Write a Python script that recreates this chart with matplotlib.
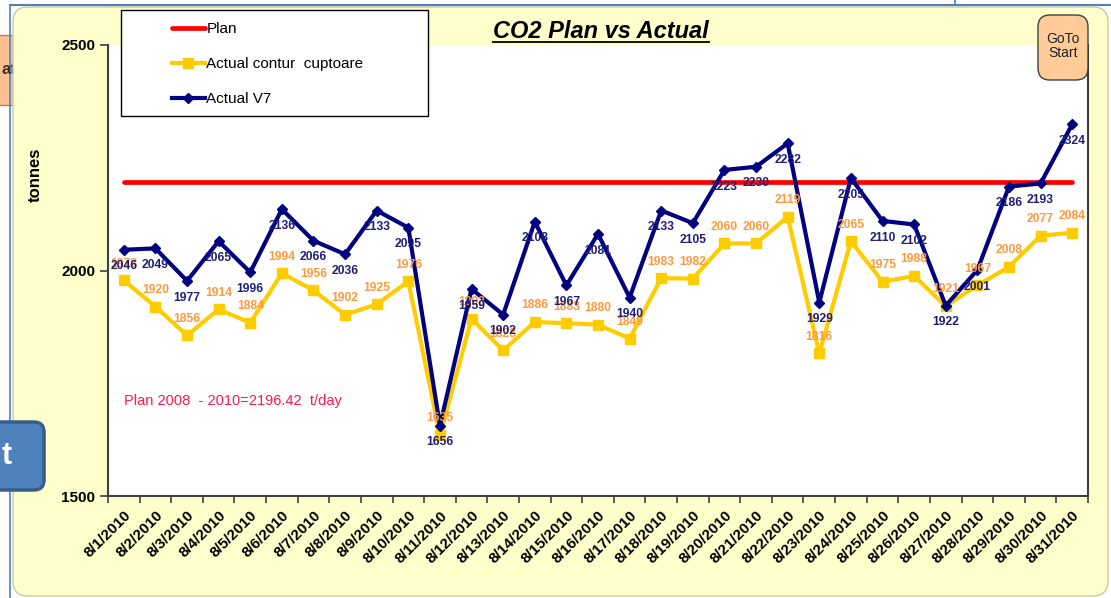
import matplotlib
matplotlib.use('Agg')
import numpy as np
import matplotlib.pyplot as plt
from matplotlib.patches import FancyBboxPatch, Rectangle
from matplotlib.lines import Line2D

plt.rcParams['font.family'] = ['Liberation Sans', 'DejaVu Sans']

dates = ['8/1/2010', '8/2/2010', '8/3/2010', '8/4/2010', '8/5/2010', '8/6/2010',
         '8/7/2010', '8/8/2010', '8/9/2010', '8/10/2010', '8/11/2010', '8/12/2010',
         '8/13/2010', '8/14/2010', '8/15/2010', '8/16/2010', '8/17/2010', '8/18/2010',
         '8/19/2010', '8/20/2010', '8/21/2010', '8/22/2010', '8/23/2010', '8/24/2010',
         '8/25/2010', '8/26/2010', '8/27/2010', '8/28/2010', '8/29/2010', '8/30/2010',
         '8/31/2010']
plan_value = 2196.42
plan = [plan_value] * len(dates)
actual_contur = [1978, 1920, 1856, 1914, 1884, 1994, 1956, 1902, 1925, 1976,
                 1635, 1893, 1823, 1886, 1883, 1880, 1849, 1983, 1982, 2060,
                 2060, 2119, 1816, 2065, 1975, 1988, 1921, 1967, 2008, 2077, 2084]
actual_v7 = [2046, 2049, 1977, 2065, 1996, 2136, 2066, 2036, 2133, 2095,
             1656, 1959, 1902, 2108, 1967, 2081, 1940, 2133, 2105, 2223,
             2230, 2282, 1929, 2205, 2110, 2102, 1922, 2001, 2186, 2193, 2324]

W, H = 1111, 598
fig = plt.figure(figsize=(W / 100, H / 100), dpi=100)
fig.patch.set_facecolor('white')


def px_box(x0, y0, x1, y1):
    # pixel box (top-left origin) -> inches, bottom-left origin
    return x0 / 100, (H - y1) / 100, (x1 - x0) / 100, (y1 - y0) / 100


# screenshot leftovers around the chart object
bx, by, bw, bh = px_box(-10, 35, 40, 105)
fig.patches.append(Rectangle((bx, by), bw, bh, transform=fig.dpi_scale_trans,
                             facecolor='#FAC090', edgecolor='#C08050', lw=1, zorder=-4))
fig.text(1 / W, 1 - 70 / H, 'at', fontsize=12, fontweight='bold', color='#333333',
         va='center', zorder=-3)
fig.add_artist(Line2D([10 / W, 1], [1 - 5 / H, 1 - 5 / H], color='#4F81BD', lw=1.5, zorder=-3))
fig.add_artist(Line2D([10 / W, 10 / W], [0, 1 - 5 / H], color='#4F81BD', lw=1.2, zorder=-3))
fig.add_artist(Line2D([955 / W, 955 / W], [1 - 5 / H, 1], color='#4F81BD', lw=1.2, zorder=-3))

# yellow chart area
bx, by, bw, bh = px_box(13, 7, 1108, 596)
fig.patches.append(FancyBboxPatch((bx, by), bw, bh, boxstyle='round,pad=0,rounding_size=0.15',
                                  transform=fig.dpi_scale_trans, facecolor='#FFFFCC',
                                  edgecolor='#C8C8B0', lw=1, zorder=-2))

ax = fig.add_axes([108 / W, 1 - 496 / H, (1088 - 108) / W, (496 - 45) / H])
ax.set_facecolor('white')
x = np.arange(len(dates))

ax.plot(x, plan, color='#FF0000', lw=3.4, solid_capstyle='round', label='Plan', zorder=2)
ax.plot(x, actual_contur, color='#FFCC00', lw=3, marker='s', ms=7,
        label='Actual contur  cuptoare', zorder=3)
ax.plot(x, actual_v7, color='#000080', lw=3, marker='D', ms=5.5,
        label='Actual V7', zorder=4)

for i, v in enumerate(actual_contur):
    ax.annotate(str(v), (i, v), xytext=(0, 12), textcoords='offset points',
                ha='center', va='center', fontsize=8.7, fontweight='bold',
                color='#FF9A3C', zorder=5)
for i, v in enumerate(actual_v7):
    ax.annotate(str(v), (i, v), xytext=(0, -12), textcoords='offset points',
                ha='center', va='center', fontsize=8.7, fontweight='bold',
                color='#1F1F7A', zorder=6)

ax.text(0, 1711, 'Plan 2008  - 2010=2196.42  t/day', color='#FF1A4B',
        fontsize=10.5, va='center')

ax.set_xlim(-0.5, len(dates) - 0.5)
ax.set_ylim(1500, 2500)
ax.set_yticks([1500, 2000, 2500])
ax.tick_params(axis='y', length=6, width=1.2, direction='out', pad=3,
               labelsize=11, color='#404040')
for lab in ax.get_yticklabels():
    lab.set_fontweight('bold')
ax.set_xticks(x)
ax.set_xticklabels(dates, rotation=45, ha='right', va='top', rotation_mode='anchor',
                   fontsize=11, fontweight='bold')
ax.set_xticks(np.arange(-0.5, len(dates), 1), minor=True)
ax.tick_params(axis='x', which='major', length=0, pad=9)
ax.tick_params(axis='x', which='minor', length=5, width=1.2, direction='out', color='#404040')
ax.spines['top'].set_visible(False)
for s in ['left', 'bottom', 'right']:
    ax.spines[s].set_color('#404040')
    ax.spines[s].set_linewidth(1.5)

fig.text(35 / W, 1 - 175 / H, 'tonnes', rotation=90, fontsize=12, fontweight='bold',
         ha='center', va='center')

title = fig.text(601 / W, 1 - 31 / H, 'CO2 Plan vs Actual', fontsize=17,
                 fontweight='bold', style='italic', ha='center', va='center')
fig.canvas.draw()
bb = title.get_window_extent(fig.canvas.get_renderer())
fig.add_artist(Line2D([bb.x0 / W, bb.x1 / W], [(bb.y0 + 1) / H, (bb.y0 + 1) / H],
                      color='black', lw=1.3))

# legend box
bx, by, bw, bh = px_box(121, 10, 428, 116)
fig.patches.append(Rectangle((bx, by), bw, bh, transform=fig.dpi_scale_trans,
                             facecolor='white', edgecolor='black', lw=1, zorder=7))
handles, labels = ax.get_legend_handles_labels()
leg = fig.legend(handles, labels, loc='upper left', bbox_to_anchor=(172 / W, 1 - 22 / H),
                 frameon=False, borderpad=0, borderaxespad=0, handlelength=2.15,
                 handletextpad=0.1, labelspacing=1.38, fontsize=11)
leg.set_zorder(8)

# GoTo Start button
bx, by, bw, bh = px_box(1038, 15, 1088, 80)
fig.patches.append(FancyBboxPatch((bx, by), bw, bh, boxstyle='round,pad=0,rounding_size=0.12',
                                  transform=fig.dpi_scale_trans, facecolor='#FFCC99',
                                  edgecolor='#404040', lw=1, zorder=8))
fig.text(1063 / W, 1 - 46 / H, 'GoTo\nStart', ha='center', va='center', fontsize=10,
         linespacing=1.0, color='#222222', zorder=9)

# blue button at left edge
bx, by, bw, bh = px_box(-20, 422, 44, 490)
fig.patches.append(FancyBboxPatch((bx, by), bw, bh, boxstyle='round,pad=0,rounding_size=0.1',
                                  transform=fig.dpi_scale_trans, facecolor='#4F81BD',
                                  edgecolor='#385D8A', lw=2.5, zorder=8))
fig.text(2 / W, 1 - 456 / H, 't', ha='left', va='center', fontsize=22, color='white',
         fontweight='bold', zorder=9)

fig.savefig('out.png', dpi=100, facecolor=fig.get_facecolor())
